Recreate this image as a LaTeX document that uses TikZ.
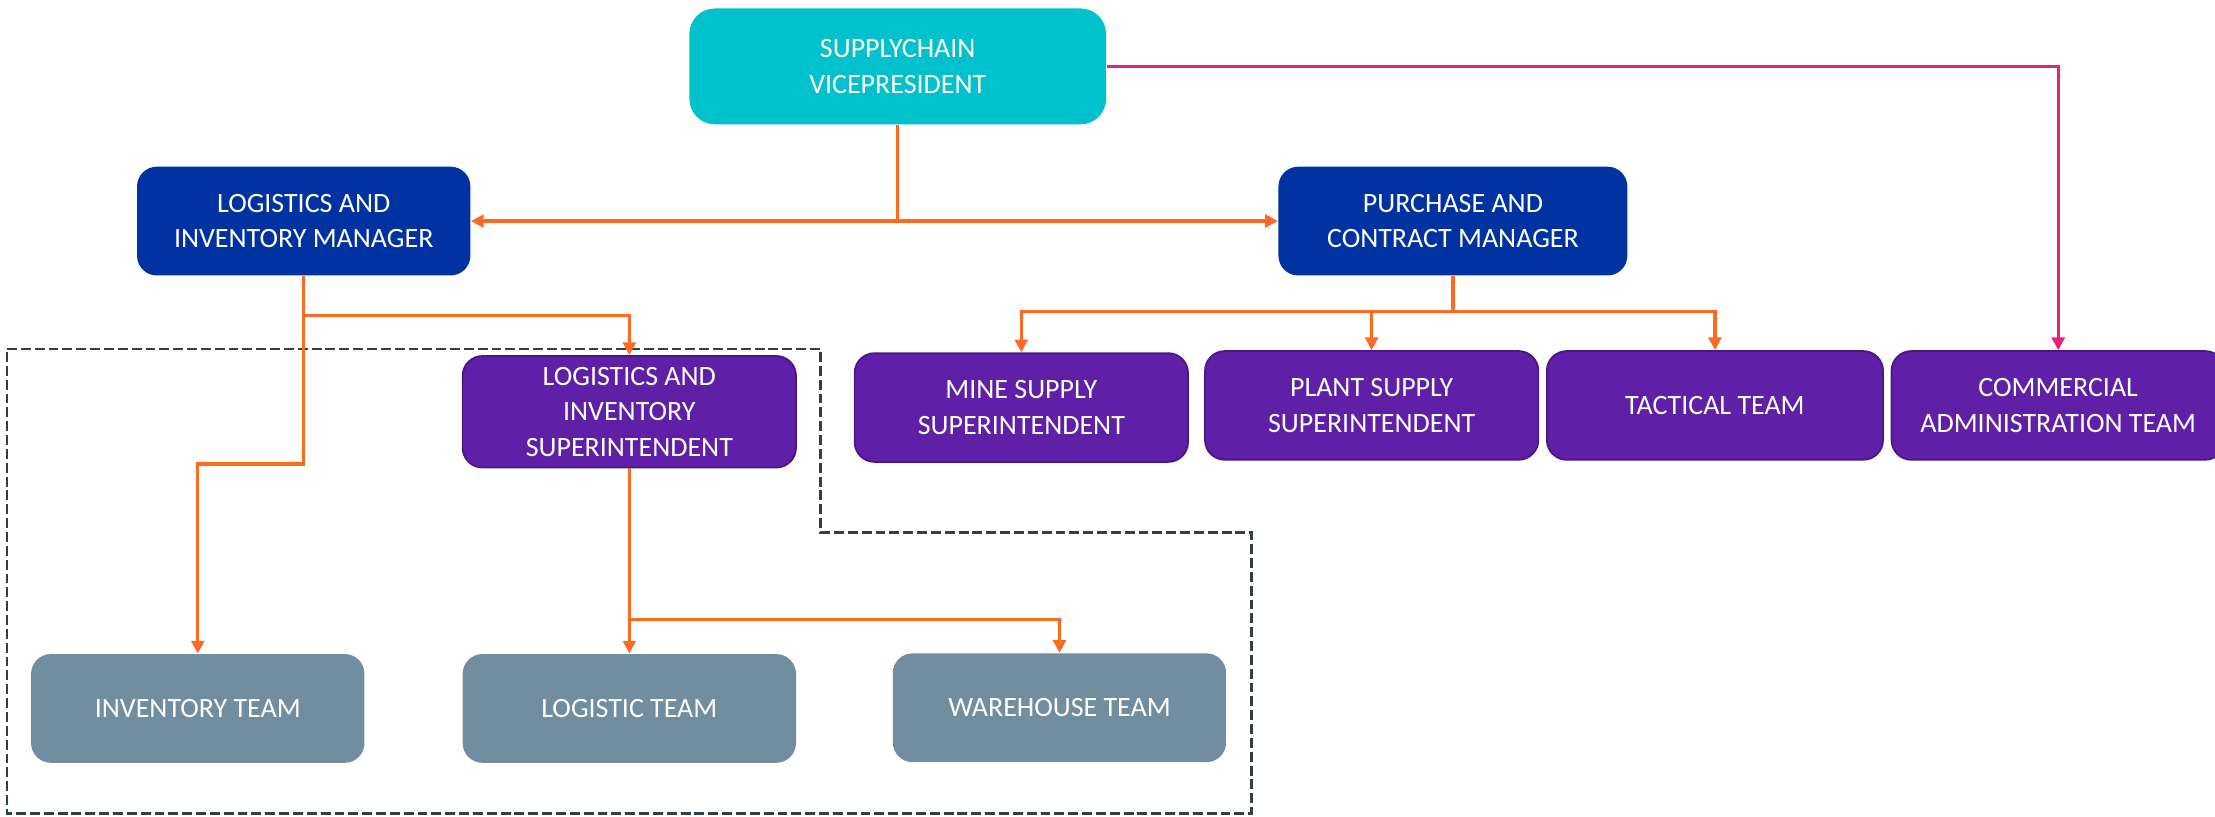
\documentclass[tikz,border=0pt]{standalone}
\usepackage{fontspec}
\setmainfont{Carlito}
\usetikzlibrary{arrows.meta,positioning}

\definecolor{vpcyan}{HTML}{00C1CC}
\definecolor{mgrblue}{HTML}{0033A1}
\definecolor{suppurple}{HTML}{5F20A7}
\definecolor{supedge}{HTML}{4A1585}
\definecolor{teamgrey}{HTML}{728DA0}
\definecolor{linkorange}{HTML}{FF6A22}
\definecolor{linkpink}{HTML}{E9207A}
\definecolor{areaslate}{HTML}{333F48}

\begin{document}
\begin{tikzpicture}[x=0.5pt, y=-0.5pt, >={Triangle[length=4.5pt,width=4.5pt]},
  box/.style={rectangle, rounded corners=7pt, align=center, text=white,
    minimum width=118pt, minimum height=38.5pt, inner sep=2pt,
    font=\fontsize{9.9}{12.5}\selectfont},
  vpbox/.style={box, fill=vpcyan, minimum width=147.5pt, minimum height=41pt, rounded corners=9pt},
  mgrbox/.style={box, fill=mgrblue},
  supbox/.style={box, fill=suppurple, draw=supedge, line width=0.6pt},
  teambox/.style={box, fill=teamgrey},
  link/.style={draw=linkorange, line width=1.2pt},
  area/.style={draw=areaslate, line width=0.95pt, dash pattern=on 3.5pt off 1.4pt}]
  \useasboundingbox (0,0) rectangle (1568,577.7);

  % dashed logistics area
  \draw[area] (5,247) -- (581,247) -- (581,377) -- (886,377) -- (886,576) -- (5,576) -- cycle;

  \node[vpbox] (vp) at (635.5,47) {SUPPLYCHAIN\\VICEPRESIDENT};
  \node[mgrbox] (lim) at (215,156.5) {LOGISTICS AND\\INVENTORY MANAGER};
  \node[mgrbox, minimum width=123.5pt] (pcm) at (1028.5,156.5) {PURCHASE AND\\CONTRACT MANAGER};
  \node[supbox, minimum height=39.5pt] (lis) at (445.5,291.5) {LOGISTICS AND\\INVENTORY\\SUPERINTENDENT};
  \node[supbox] (mine) at (723,288.5) {MINE SUPPLY\\SUPERINTENDENT};
  \node[supbox] (plant) at (971,287) {PLANT SUPPLY\\SUPERINTENDENT};
  \node[supbox, minimum width=119pt] (tact) at (1214,287) {TACTICAL TEAM};
  \node[supbox] (comm) at (1457,287) {COMMERCIAL\\ADMINISTRATION TEAM};
  \node[teambox] (inv) at (140,501.5) {INVENTORY TEAM};
  \node[teambox] (logt) at (445.5,501.5) {LOGISTIC TEAM};
  \node[teambox] (ware) at (750,501) {WAREHOUSE TEAM};

  % connectors
  \draw[link] (vp.south) -- (vp.south |- lim.east);
  \draw[link, <->] (lim.east) -- (pcm.west);
  \draw[draw=linkpink, line width=1.2pt, ->] (vp.east) -| (comm.north);
  \draw[link, ->] (lim.south) -- ++(0,28) -| (lis.north);
  \draw[link, ->] (lim.south) -- ++(0,133) -| (inv.north);
  \draw[link] (pcm.south) -- ++(0,25) coordinate (pj);
  \draw[link, ->] (pj) -| (mine.north);
  \draw[link, ->] (pj) -| (plant.north);
  \draw[link, ->] (pj) -| (tact.north);
  \draw[link, ->] (lis.south) -- (logt.north);
  \draw[link, ->] (lis.south) -- ++(0,107) -| (ware.north);
\end{tikzpicture}
\end{document}
